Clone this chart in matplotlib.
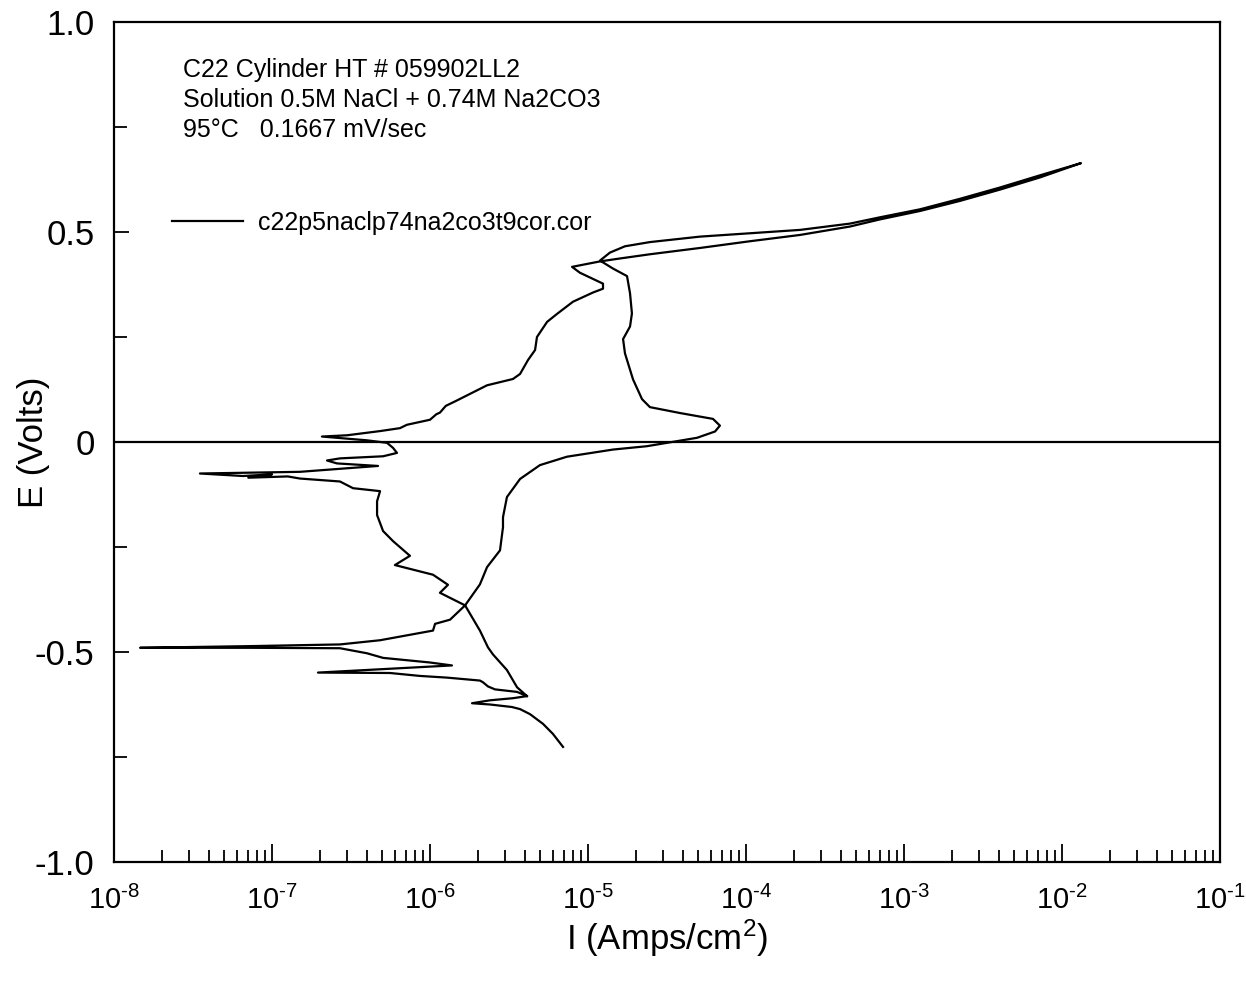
import numpy as np
import matplotlib
matplotlib.use("Agg")
import matplotlib.pyplot as plt
from matplotlib.ticker import LogLocator, MultipleLocator, FixedLocator, FuncFormatter

# ---- data: cyclic polarization scan, log10(I [A/cm^2]) vs E [V] ----
fwd_log_current = [
    -5.158, -5.222, -5.285, -5.367, -5.430, -5.481, -5.620, -5.734, -5.620, -5.475,
    -5.386, -5.449, -5.589, -5.633, -5.665, -5.684, -5.892, -6.063, -6.253, -6.709,
    -6.316, -5.861, -6.000, -6.297, -6.399, -6.570, -7.139, -7.835, -7.139, -6.570,
    -6.316, -5.981, -5.968, -5.873, -5.778, -5.684, -5.639, -5.557, -5.538, -5.538,
    -5.513, -5.430, -5.304, -5.133, -4.842, -4.627, -4.310, -4.196, -4.165, -4.209,
    -4.418, -4.608, -4.658, -4.715, -4.766, -4.778, -4.734, -4.722, -4.734, -4.753,
    -4.842, -4.924, -4.861, -4.766, -4.608, -4.291, -3.975, -3.658, -3.342, -3.152,
    -2.899, -2.646, -2.392, -2.139, -1.880,
]
fwd_potential = [
    -0.726, -0.695, -0.671, -0.648, -0.636, -0.631, -0.625, -0.622, -0.615, -0.610,
    -0.605, -0.595, -0.589, -0.582, -0.572, -0.568, -0.561, -0.557, -0.550, -0.549,
    -0.541, -0.532, -0.525, -0.514, -0.503, -0.491, -0.490, -0.490, -0.486, -0.482,
    -0.472, -0.449, -0.433, -0.423, -0.389, -0.339, -0.298, -0.258, -0.203, -0.179,
    -0.131, -0.088, -0.055, -0.035, -0.018, -0.010, 0.010, 0.025, 0.039, 0.055,
    0.069, 0.083, 0.102, 0.149, 0.211, 0.245, 0.275, 0.306, 0.354, 0.395,
    0.413, 0.432, 0.451, 0.466, 0.476, 0.489, 0.497, 0.505, 0.520, 0.535,
    0.554, 0.579, 0.606, 0.635, 0.664,
]
rev_log_current = [
    -2.139, -2.392, -2.646, -2.899, -3.152, -3.342, -3.658, -3.975, -4.291, -4.608,
    -4.797, -4.924, -5.101, -5.051, -4.905, -4.905, -4.968, -5.095, -5.196, -5.259,
    -5.323, -5.335, -5.380, -5.430, -5.475, -5.639, -5.728, -5.829, -5.900, -5.937,
    -5.960, -6.000, -6.146, -6.190, -6.316, -6.525, -6.684, -6.399, -6.272, -6.234,
    -6.209, -6.297, -6.570, -6.652, -6.589, -6.329, -6.614, -6.823, -7.456, -7.184,
    -7.000, -7.150, -6.900, -6.823, -6.570, -6.487, -6.316, -6.335, -6.335, -6.297,
    -6.234, -6.127, -6.222, -5.981, -5.886, -5.937, -5.778, -5.684, -5.633, -5.601,
    -5.513, -5.449, -5.386,
]
rev_potential = [
    0.630, 0.601, 0.574, 0.550, 0.530, 0.513, 0.493, 0.478, 0.462, 0.447,
    0.437, 0.430, 0.417, 0.403, 0.377, 0.365, 0.356, 0.334, 0.305, 0.286,
    0.250, 0.219, 0.195, 0.162, 0.150, 0.135, 0.118, 0.099, 0.086, 0.070,
    0.066, 0.053, 0.041, 0.033, 0.026, 0.016, 0.013, 0.004, -0.002, -0.014,
    -0.026, -0.034, -0.039, -0.044, -0.051, -0.057, -0.065, -0.071, -0.075, -0.081,
    -0.077, -0.085, -0.082, -0.087, -0.094, -0.110, -0.117, -0.141, -0.174, -0.212,
    -0.236, -0.271, -0.293, -0.316, -0.340, -0.359, -0.389, -0.449, -0.489, -0.506,
    -0.543, -0.584, -0.605,
]

series_label = "c22p5naclp74na2co3t9cor.cor"
info_lines = [
    "C22 Cylinder HT # 059902LL2",
    "Solution 0.5M NaCl + 0.74M Na2CO3",
    "95\u00b0C   0.1667 mV/sec",
]
x_decades = [1e-8, 1e-7, 1e-6, 1e-5, 1e-4, 1e-3, 1e-2, 1e-1]
y_ticks = [-1.0, -0.5, 0.0, 0.5, 1.0]
y_tick_labels = ["-1.0", "-0.5", "0", "0.5", "1.0"]

plt.rcParams["font.family"] = ["Liberation Sans", "DejaVu Sans"]
plt.rcParams["mathtext.fontset"] = "custom"
plt.rcParams["mathtext.rm"] = "Liberation Sans"
plt.rcParams["mathtext.it"] = "Liberation Sans"
plt.rcParams["mathtext.default"] = "regular"

W, H = 1246, 981
fig = plt.figure(figsize=(W / 100, H / 100), dpi=100)
ax = fig.add_axes([114 / W, 1 - 862 / H, 1106 / W, 840 / H])

current = 10.0 ** np.concatenate([fwd_log_current, rev_log_current])
potential = np.concatenate([fwd_potential, rev_potential])

ax.plot(current, potential, color="black", lw=1.6, label=series_label)
ax.axhline(0.0, color="black", lw=1.6)

ax.set_xscale("log")
ax.set_xlim(x_decades[0], x_decades[-1])
ax.set_ylim(-1.0, 1.0)


def decade_label(v, pos):
    n = int(round(np.log10(v)))
    sign = r"\text{-}" if n < 0 else ""
    return r"$10^{%s%d}$" % (sign, abs(n))


ax.xaxis.set_major_locator(FixedLocator(x_decades))
ax.xaxis.set_major_formatter(FuncFormatter(decade_label))
ax.xaxis.set_minor_locator(LogLocator(base=10, subs=np.arange(2, 10), numticks=20))
ax.yaxis.set_major_locator(FixedLocator(y_ticks))
ax.set_yticklabels(y_tick_labels)
ax.yaxis.set_minor_locator(MultipleLocator(0.25))

ax.tick_params(axis="both", which="both", direction="in", top=False, right=False,
               width=1.3, color="black")
ax.tick_params(axis="x", which="major", length=13, pad=17, labelsize=21)
ax.tick_params(axis="x", which="minor", length=9)
ax.tick_params(axis="y", which="major", length=11, pad=14, labelsize=25)
ax.tick_params(axis="y", which="minor", length=9)

for sp in ax.spines.values():
    sp.set_linewidth(1.6)

ax.set_xlabel("I (Amps/cm$^2$)", fontsize=25)
ax.xaxis.set_label_coords(0.5, -0.066)
ax.set_ylabel("E (Volts)", fontsize=25)
ax.yaxis.set_label_coords(-0.058, 0.5)

for i, line in enumerate(info_lines):
    ax.text(183 / W, 1 - (70 + 30 * i) / H, line, transform=fig.transFigure,
            fontsize=18, va="center", ha="left")

ax.legend(loc="center left", bbox_to_anchor=(172 / W, 1 - 223 / H),
          bbox_transform=fig.transFigure, frameon=False, fontsize=18,
          handlelength=2.85, handletextpad=0.6, borderaxespad=0, borderpad=0)

fig.savefig("out.png", dpi=100)
